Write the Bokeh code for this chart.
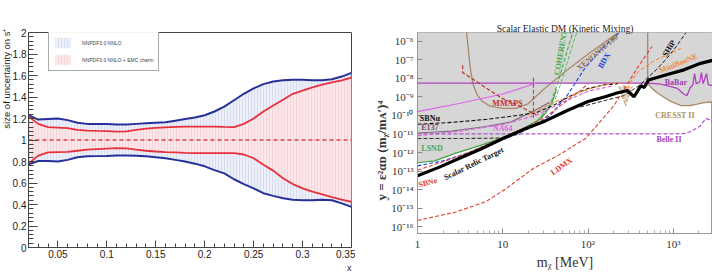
import numpy as np
from bokeh.plotting import figure
from bokeh.layouts import row
from bokeh.models import (Label, FixedTicker, CustomJSTickFormatter, Legend,
                          LegendItem, Range1d, Title)
from bokeh.embed import file_html
from bokeh.resources import INLINE

# ---------------- left panel data ----------------
x_frac = [0.02, 0.03, 0.04, 0.05, 0.06, 0.07, 0.08, 0.09, 0.10, 0.11, 0.12,
          0.13, 0.14, 0.15, 0.16, 0.17, 0.18, 0.19, 0.20, 0.21, 0.22, 0.23,
          0.24, 0.25, 0.26, 0.27, 0.28, 0.29, 0.30, 0.31, 0.32, 0.33, 0.34, 0.35]
nnlo_upper = [1.23, 1.19, 1.195, 1.20, 1.185, 1.16, 1.15, 1.15, 1.148, 1.145, 1.145,
              1.15, 1.155, 1.16, 1.165, 1.18, 1.195, 1.21, 1.23, 1.265, 1.31, 1.37,
              1.43, 1.48, 1.52, 1.545, 1.555, 1.56, 1.56, 1.555, 1.555, 1.565, 1.59, 1.625]
nnlo_lower = [0.775, 0.805, 0.805, 0.80, 0.815, 0.84, 0.848, 0.85, 0.852, 0.855, 0.856,
              0.853, 0.848, 0.84, 0.83, 0.815, 0.80, 0.78, 0.755, 0.72, 0.69, 0.635,
              0.59, 0.55, 0.505, 0.48, 0.458, 0.445, 0.44, 0.44, 0.445, 0.44, 0.41, 0.378]
charm_upper = [1.22, 1.15, 1.12, 1.115, 1.11, 1.095, 1.088, 1.085, 1.083, 1.078, 1.08,
               1.095, 1.105, 1.112, 1.118, 1.122, 1.125, 1.125, 1.125, 1.125, 1.122, 1.12,
               1.15, 1.20, 1.265, 1.32, 1.375, 1.43, 1.46, 1.49, 1.515, 1.535, 1.555, 1.58]
charm_lower = [0.78, 0.855, 0.885, 0.888, 0.89, 0.90, 0.91, 0.915, 0.92, 0.924, 0.922,
               0.91, 0.90, 0.893, 0.888, 0.884, 0.88, 0.878, 0.877, 0.877, 0.878, 0.878,
               0.865, 0.83, 0.77, 0.715, 0.645, 0.59, 0.55, 0.52, 0.495, 0.468, 0.445, 0.425]
central_ratio = [1.0] * len(x_frac)
left_xticks = [0.05, 0.10, 0.15, 0.20, 0.25, 0.30, 0.35]
left_yticks = [0.0, 0.2, 0.4, 0.6, 0.8, 1.0, 1.2, 1.4, 1.6, 1.8, 2.0]
legend_labels = ["NNPDF3.0 NNLO", "NNPDF3.0 NNLO + EMC charm"]

# ---------------- right panel data (log10 m [MeV], log10 y) ----------------
relic_lm = [0, 0.25, 0.5, 0.75, 1.0, 1.25, 1.5, 1.75, 2.0, 2.2, 2.34, 2.46, 2.54,
            2.62, 2.66, 2.71, 2.93, 3.125, 3.32, 3.46]
relic_ly = [-13.25, -12.8, -12.3, -11.8, -11.25, -10.75, -10.3, -9.75, -9.25, -9.0,
            -8.8, -8.66, -9.0, -8.4, -8.5, -8.1, -7.8, -7.55, -7.2, -7.04]
excl_lm = [0, 0.2, 0.45, 0.75, 1.0, 1.2, 1.4, 1.5, 1.58, 1.63, 2.70, 2.75, 2.81,
           2.9, 2.97, 3.09, 3.2, 3.28, 3.36, 3.5, 3.5, 0]
excl_ly = [-12.55, -12.45, -12.03, -11.6, -11.2, -10.8, -10.3, -9.9, -9.3, -8.27,
           -8.27, -8.55, -8.78, -9.05, -9.25, -9.48, -9.47, -9.4, -9.32, -9.26, -5.0, -5.0]
lsnd_lm = [0, 0.2, 0.45, 0.75, 1.0, 1.2, 1.4, 1.5, 1.58, 1.63]
lsnd_ly = [-12.55, -12.45, -12.03, -11.6, -11.2, -10.8, -10.3, -9.9, -9.3, -8.6]
coherent_lm = [1.41, 1.56, 1.64, 1.72, 1.80, 1.85]
coherent_ly = [-10.33, -9.4, -8.32, -7.08, -5.85, -5.3]
coherent2_lm = [1.45, 1.60, 1.68, 1.76, 1.84, 1.89]
coherent2_ly = [-10.2, -9.3, -8.3, -7.1, -5.9, -5.3]
xenon_lm = [0.57, 0.62, 0.65, 0.70, 0.76, 0.85, 1.0, 1.15, 1.29, 1.48, 1.76, 2.03, 2.34, 2.4]
xenon_ly = [-5.3, -7.5, -8.3, -8.9, -9.25, -9.5, -9.62, -9.62, -9.4, -8.6, -7.55, -6.6, -5.6, -5.4]
cresst_lm = [2.70, 2.70, 2.75, 2.81, 2.9, 2.97, 3.09, 3.2, 3.28, 3.36, 3.46]
cresst_ly = [-5.3, -8.27, -8.55, -8.78, -9.05, -9.25, -9.48, -9.47, -9.4, -9.32, -9.28]
babar_lm = [0, 1.0, 2.0, 2.72, 2.85, 2.97, 3.05, 3.12, 3.16, 3.2, 3.23, 3.25, 3.27,
            3.31, 3.33, 3.35, 3.39, 3.41, 3.46]
babar_ly = [-8.27, -8.27, -8.27, -8.27, -8.32, -8.45, -8.55, -8.85, -8.94, -8.5, -8.35,
            -7.75, -8.3, -8.2, -7.7, -8.3, -7.75, -8.35, -8.4]
na64_lm = [0, 0.5, 1.0, 1.39]
na64_ly = [-9.8, -9.35, -8.85, -8.27]
na64f_lm = [0, 0.5, 1.0, 1.39, 1.7, 2.0, 2.3]
na64f_ly = [-11.1, -10.85, -10.5, -10.0, -9.3, -8.7, -8.4]
belle_lm = [0, 1.0, 2.0, 3.0, 3.15, 3.2, 3.26, 3.32, 3.38, 3.44, 3.46]
belle_ly = [-11.0, -11.0, -11.0, -11.0, -10.97, -10.87, -10.72, -10.56, -10.17, -10.25, -10.3]
sbna_lm = [0, 0.4, 0.8, 1.1, 1.39, 1.6, 1.8, 2.0, 2.2, 2.35]
sbna_ly = [-10.48, -10.38, -10.22, -10.05, -9.86, -9.45, -8.94, -8.55, -8.35, -8.3]
e137_lm = [0, 0.4, 0.8, 1.1, 1.39, 1.55]
e137_ly = [-10.95, -10.85, -10.6, -10.35, -9.7, -9.3]
e137b_lm = [0, 0.5, 1.0, 1.2]
e137b_ly = [-11.25, -11.25, -11.22, -11.0]
mmaps_lm = [0.53, 0.53, 0.65, 0.84, 1.0, 1.15, 1.3, 1.39]
mmaps_ly = [-7.3, -7.7, -8.05, -8.63, -9.1, -9.4, -9.75, -9.95]
mmapsv_lm = [1.36, 1.36]
mmapsv_ly = [-7.98, -10.17]
bdx_lm = [0, 0.3, 0.6, 0.9, 1.17, 1.35, 1.56, 1.76, 1.95, 2.15, 2.38]
bdx_ly = [-12.72, -12.45, -12.0, -11.5, -11.0, -10.6, -10.0, -8.9, -7.55, -6.46, -5.5]
sbne_lm = [0, 0.3, 0.6, 1.0, 1.3, 1.5, 1.7, 1.9, 2.0]
sbne_ly = [-12.95, -12.5, -12.0, -11.2, -10.6, -10.1, -9.4, -8.7, -8.3]
ldmx_lm = [0, 0.45, 0.8, 1.035, 1.36, 1.64, 1.97, 2.15, 2.3, 2.46, 2.6, 2.75]
ldmx_ly = [-15.66, -15.2, -14.65, -13.96, -12.85, -12.18, -11.25, -10.3, -9.5, -8.32, -7.3, -6.3]
ship_lm = [1.91, 2.2, 2.42, 2.6, 2.8, 2.95, 3.05, 3.15]
ship_ly = [-9.55, -9.2, -8.94, -8.4, -7.55, -6.8, -6.2, -5.54]
miniboone_lm = [1.3, 1.6, 1.9, 2.15, 2.3, 2.4, 2.46, 2.5, 2.6, 2.77, 2.95, 3.09]
miniboone_ly = [-10.0, -9.3, -8.75, -8.4, -8.25, -8.3, -8.6, -8.2, -7.6, -7.08, -6.7, -6.39]
vee_lm = [2.36, 2.42, 2.44, 2.46, 2.52]
vee_ly = [-8.45, -9.2, -9.5, -9.2, -8.45]

curve_labels = ["SBNα", "E137", "NA64", "LSND", "Scalar Relic Target", "SBNe", "LDMX",
                "MMAPS", "COHERENT", "XENON10/100", "BDX", "SHiP", "MiniBooNE",
                "BaBar", "CRESST II", "Belle II"]
label_lm = [0.145, 0.145, 1.0, 0.17, 0.66, 0.12, 1.69, 1.055, 1.68, 2.11, 2.19,
            2.95, 3.06, 3.03, 3.02, 2.95]
label_ly = [-10.17, -10.67, -10.71, -11.78, -12.6, -13.62, -12.75, -9.35, -6.62, -6.62,
            -7.05, -6.4, -7.2, -8.22, -10.02, -11.3]
label_angle = [0, 0, 0, 0, 26, 15, 35, 0, 80, 40, 60, 58, 22, 0, 0, 0]
label_color = ["#111111", "#705070", "#e060e0", "#4fa34f", "#111111", "#e03a2a",
               "#e03a2a", "#c03030", "#40a840", "#8f7050", "#2040e0", "#111111",
               "#f08a3a", "#a040b0", "#b09060", "#a040c0"]

# ================= left figure =================
p1 = figure(width=355, frame_height=215, x_range=Range1d(0.02, 0.35),
            y_range=Range1d(0, 2), output_backend="svg", toolbar_location=None,
            min_border_left=27, min_border_right=4, min_border_top=32, min_border_bottom=25)
p1.grid.visible = False
p1.outline_line_color = "#444444"
p1.background_fill_color = "white"

band1 = p1.varea(x_frac, y1=nnlo_lower, y2=nnlo_upper, fill_color="#eef0f9",
                 hatch_pattern="|", hatch_color="#9aa4d8", hatch_alpha=0.45,
                 hatch_scale=3, hatch_weight=0.6)
band2 = p1.varea(x_frac, y1=charm_lower, y2=charm_upper, fill_color="#fbe8ea",
                 hatch_pattern="|", hatch_color="#eaa0a8", hatch_alpha=0.5,
                 hatch_scale=3, hatch_weight=0.6)
p1.line(x_frac, nnlo_upper, line_color="#26309a", line_width=2)
p1.line(x_frac, nnlo_lower, line_color="#26309a", line_width=2)
p1.line(x_frac, charm_upper, line_color="#e8303c", line_width=1.8)
p1.line(x_frac, charm_lower, line_color="#e8303c", line_width=1.8)
p1.line(x_frac, central_ratio, line_color="#e04050", line_width=1.5, line_dash="4 3")

legend = Legend(items=[LegendItem(label=legend_labels[0], renderers=[band1]),
                       LegendItem(label=legend_labels[1], renderers=[band2])],
                location=(20, 176), glyph_width=19, glyph_height=13, label_height=13,
                label_text_font_size="5px", label_text_font="Liberation Sans",
                label_standoff=10, spacing=4, padding=4, margin=0,
                border_line_color="#555555", border_line_width=1,
                background_fill_color="white")
p1.add_layout(legend)

for ax in (p1.xaxis[0], p1.yaxis[0]):
    ax.major_label_text_font = "Liberation Sans"
    ax.major_label_text_font_size = "10px"
    ax.major_label_text_color = "#222222"
    ax.axis_line_color = "#444444"
    ax.major_tick_line_color = "#444444"
    ax.minor_tick_line_color = "#444444"
    ax.major_tick_out = 0
    ax.minor_tick_out = 0
p1.xaxis.ticker = FixedTicker(ticks=left_xticks,
                              minor_ticks=list(np.round(np.arange(0.02, 0.351, 0.01), 3)))
p1.yaxis.ticker = FixedTicker(ticks=left_yticks,
                              minor_ticks=list(np.round(np.arange(0, 2.001, 0.04), 3)))
p1.xaxis.formatter = CustomJSTickFormatter(code="return String(Math.round(tick*100)/100);")
p1.yaxis.formatter = CustomJSTickFormatter(code="return String(Math.round(tick*10)/10);")
p1.xaxis.major_tick_in = 7
p1.xaxis.minor_tick_in = 4
p1.yaxis.major_tick_in = 9
p1.yaxis.minor_tick_in = 5
p1.xaxis.major_label_standoff = 2
p1.yaxis.major_label_standoff = 2

p1.add_layout(Title(text="size of uncertainty on s⁺", align="right", offset=-4,
                    standoff=-4, text_font="Liberation Sans", text_font_size="9.5px",
                    text_font_style="normal", text_color="#222222"), "left")
p1.add_layout(Title(text="x", align="right", standoff=0, offset=0,
                    text_font="Liberation Sans", text_font_size="9px",
                    text_font_style="normal", text_color="#222222"), "below")

# ================= right figure =================
def pw(v):
    return list(np.power(10.0, np.array(v, dtype=float)))

p2 = figure(width=357, height=272, x_axis_type="log", y_axis_type="log",
            x_range=Range1d(1, 10 ** 3.46), y_range=Range1d(10 ** -16.36, 10 ** -5.54),
            output_backend="svg", toolbar_location=None,
            min_border_left=62, min_border_right=0, min_border_top=0, min_border_bottom=32)
p2.grid.visible = False
p2.outline_line_color = "#999999"
p2.title.text = "Scalar Elastic DM (Kinetic Mixing)"
p2.title.align = "center"
p2.title.standoff = -2
p2.title.text_font = "Liberation Serif"
p2.title.text_font_size = "9.5px"
p2.title.text_font_style = "normal"
p2.title.text_color = "#222222"

p2.patch(pw(excl_lm), pw(excl_ly), fill_color="#d6d6d6", line_color=None)
p2.patch(pw(vee_lm), pw(vee_ly), fill_color="#c8b8a0", fill_alpha=0.6, line_color=None)

def curve(lm, ly, color, width=1.2, dash="solid"):
    p2.line(pw(lm), pw(ly), line_color=color, line_width=width, line_dash=dash)

curve(xenon_lm, xenon_ly, "#a88a6a", 1.3)
curve(cresst_lm, cresst_ly, "#a88a6a", 1.3)
curve(babar_lm, babar_ly, "#b040c0", 1.3)
curve(na64_lm, na64_ly, "#e060f0", 1.2)
curve(lsnd_lm, lsnd_ly, "#40a040", 1.2)
curve(e137_lm, e137_ly, "#807080", 1.2)
curve(coherent_lm, coherent_ly, "#40b040", 1.1, "4 2")
curve(coherent2_lm, coherent2_ly, "#60b860", 1.0, "4 2")
curve(na64f_lm, na64f_ly, "#e060e0", 1.1, "4 2")
curve(belle_lm, belle_ly, "#b050d0", 1.2, "4 2")
curve(sbna_lm, sbna_ly, "#111111", 1.1, "4 2")
curve(e137b_lm, e137b_ly, "#333333", 1.1, "4 2")
curve(mmaps_lm, mmaps_ly, "#b03a2a", 1.2, "4 2")
curve(mmapsv_lm, mmapsv_ly, "#d04040", 1.2, "4 2")
curve(bdx_lm, bdx_ly, "#2040e0", 1.1, "4 2")
curve(sbne_lm, sbne_ly, "#e04040", 1.1, "4 2")
curve(ship_lm, ship_ly, "#222222", 1.0, "4 2")
curve(miniboone_lm, miniboone_ly, "#f09040", 1.1, "4 2")
curve(vee_lm, vee_ly, "#c09060", 1.0, "3 2")
curve(ldmx_lm, ldmx_ly, "#e04030", 1.1, "4 2")
curve(relic_lm, relic_ly, "#000000", 3.2)

for t, lm, ly, ang, col in zip(curve_labels, label_lm, label_ly, label_angle, label_color):
    p2.add_layout(Label(x=10 ** lm, y=10 ** ly, text=t, angle=np.deg2rad(ang),
                        text_align="center", text_baseline="middle",
                        text_font="Liberation Serif", text_font_style="bold",
                        text_font_size="8px", text_color=col))

log_fmt = CustomJSTickFormatter(code="""
const e = Math.round(Math.log10(tick));
if (e == 0) return "1";
if (e == 1) return "10";
const sup = {"-": "\u207b", "0": "\u2070", "1": "\u00b9", "2": "\u00b2", "3": "\u00b3",
             "4": "\u2074", "5": "\u2075", "6": "\u2076", "7": "\u2077", "8": "\u2078", "9": "\u2079"};
return "10" + String(e).split("").map(c => sup[c]).join("");
""")
xminor = [m * 10 ** d for d in range(0, 4) for m in range(2, 10) if m * 10 ** d < 10 ** 3.46]
p2.xaxis.ticker = FixedTicker(ticks=[1, 10, 100, 1000], minor_ticks=xminor)
p2.yaxis.ticker = FixedTicker(ticks=[10.0 ** e for e in range(-16, -5)])
for ax in (p2.xaxis[0], p2.yaxis[0]):
    ax.formatter = log_fmt
    ax.major_label_text_font = "Liberation Serif"
    ax.major_label_text_font_size = "11px"
    ax.major_label_text_color = "#333333"
    ax.axis_line_color = "#999999"
    ax.major_tick_line_color = "#888888"
    ax.minor_tick_line_color = "#aaaaaa"
    ax.major_tick_out = 0
    ax.minor_tick_out = 0
    ax.major_tick_in = 5
    ax.minor_tick_in = 3
    ax.major_label_standoff = 4

p2.xaxis.axis_label = "mᵪ [MeV]"
p2.xaxis.axis_label_standoff = 2
p2.xaxis.axis_label_text_font = "Liberation Serif"
p2.xaxis.axis_label_text_font_size = "14px"
p2.xaxis.axis_label_text_font_style = "normal"
p2.xaxis.axis_label_text_color = "#333333"
p2.add_layout(Title(text="y = ε²αᴅ (mᵪ/mᴀ′)⁴", align="left", offset=33, standoff=0,
                    text_font="Liberation Serif", text_font_size="13px",
                    text_font_style="bold", text_color="#333333"), "left")

layout = row(p1, p2)
open("out.html", "w").write(file_html(layout, INLINE))
